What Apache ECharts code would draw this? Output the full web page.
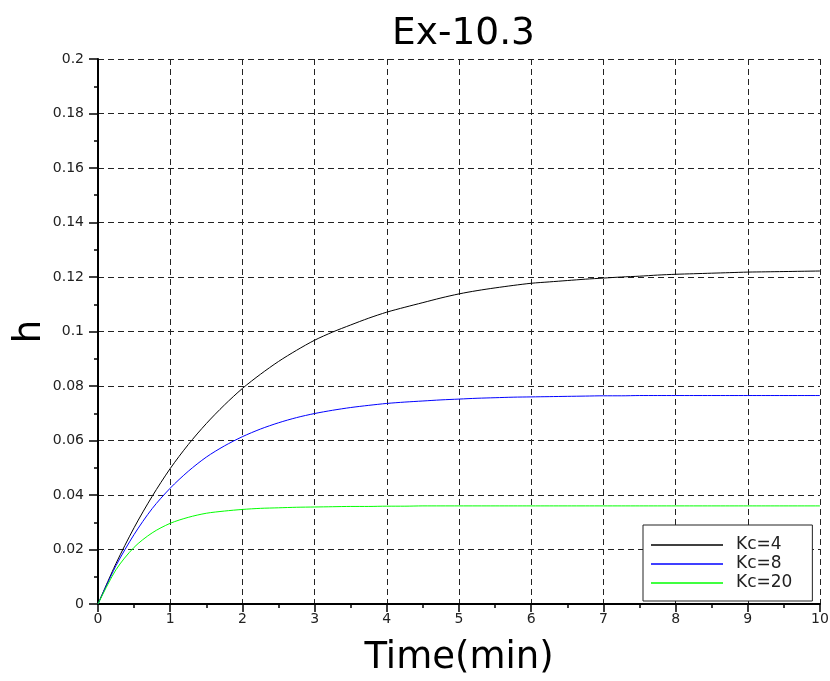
<!DOCTYPE html>
<html>
<head>
<meta charset="utf-8">
<script src="https://cdn.jsdelivr.net/npm/echarts@6/dist/echarts.min.js"></script>
<style>html,body{margin:0;padding:0;background:#fff;}#c{width:830px;height:681px;}</style>
</head>
<body>
<div id="c"></div>
<script>
// values
var time = [0, 0.25, 0.5, 0.75, 1, 1.25, 1.5, 1.75, 2, 2.25, 2.5, 2.75, 3, 3.25, 3.5, 3.75, 4, 4.25, 4.5, 4.75, 5,
            5.25, 5.5, 5.75, 6, 6.25, 6.5, 6.75, 7, 7.25, 7.5, 7.75, 8, 8.25, 8.5, 8.75, 9, 9.25, 9.5, 9.75, 10];
var kc4  = [0, 0.0149, 0.0280, 0.0395, 0.0497, 0.0585, 0.0662, 0.0730, 0.0791, 0.0843, 0.0890, 0.0931, 0.0968,
            0.0998, 0.1024, 0.1049, 0.1071, 0.1089, 0.1106, 0.1123, 0.1138, 0.1150, 0.1160, 0.1169, 0.1177, 0.1182,
            0.1187, 0.1192, 0.1196, 0.1200, 0.1203, 0.1207, 0.1210, 0.1212, 0.1214, 0.1216, 0.1218, 0.1219, 0.1220, 0.1221, 0.1222];
var kc8  = [0, 0.0141, 0.0255, 0.0350, 0.0425, 0.0487, 0.0539, 0.0580, 0.0614, 0.0642, 0.0665, 0.0684, 0.0699,
            0.0711, 0.0721, 0.0729, 0.0736, 0.0741, 0.0745, 0.0749, 0.0752, 0.0755, 0.0757, 0.0759, 0.0760, 0.0761,
            0.0762, 0.0763, 0.0764, 0.0764, 0.0765, 0.0765, 0.0765, 0.0765, 0.0765, 0.0765, 0.0765, 0.0765, 0.0765, 0.0765, 0.0765];
var kc20 = [0, 0.0126, 0.0208, 0.0261, 0.0296, 0.0318, 0.0333, 0.0341, 0.0347, 0.0351, 0.0353, 0.0355, 0.0356,
            0.0357, 0.0358, 0.0358, 0.0359, 0.0359, 0.0360, 0.0360, 0.0360, 0.0360, 0.0360, 0.0360, 0.0360, 0.0360,
            0.0360, 0.0360, 0.0360, 0.0360, 0.0360, 0.0360, 0.0360, 0.0360, 0.0360, 0.0360, 0.0360, 0.0360, 0.0360, 0.0360, 0.0360];
var seriesNames = ['Kc=4', 'Kc=8', 'Kc=20'];
var titleText = 'Ex-10.3';
var xName = 'Time(min)';
var yName = 'h';

function pairs(xs, ys) { return xs.map(function (x, i) { return [x, ys[i]]; }); }

var font = 'DejaVu Sans';
var gridLine = { show: true, lineStyle: { color: '#222', type: [6, 4], width: 1 } };

var chart = echarts.init(document.getElementById('c'), null, { renderer: 'canvas' });
chart.setOption({
  backgroundColor: '#fff',
  animation: false,
  title: {
    text: titleText, left: 387, top: 10,
    textStyle: { fontFamily: font, fontSize: 37.5, fontWeight: 'normal', color: '#000' }
  },
  grid: { left: 98, right: 10, top: 59, bottom: 77, containLabel: false, outerBoundsMode: 'none' },
  xAxis: {
    type: 'value', min: 0, max: 10, interval: 1,
    name: xName, nameLocation: 'middle', nameGap: 36, nameMoveOverlap: false,
    nameTextStyle: { fontFamily: font, fontSize: 37, color: '#000' },
    axisLine: { show: true, onZero: false, lineStyle: { color: '#000', width: 2 } },
    axisTick: { show: true, length: 8, lineStyle: { color: '#000', width: 1.5 } },
    minorTick: { show: true, splitNumber: 2, length: 4, lineStyle: { color: '#000', width: 1.5 } },
    axisLabel: { fontFamily: font, fontSize: 14, color: '#222', margin: 8 },
    splitLine: gridLine
  },
  yAxis: {
    type: 'value', min: 0, max: 0.2, interval: 0.02,
    name: yName, nameLocation: 'middle', nameGap: 49, nameRotate: 90, nameMoveOverlap: false,
    nameTextStyle: { fontFamily: font, fontSize: 37, color: '#000' },
    axisLine: { show: true, onZero: false, lineStyle: { color: '#000', width: 2 } },
    axisTick: { show: true, length: 9, lineStyle: { color: '#000', width: 1.5 } },
    minorTick: { show: true, splitNumber: 2, length: 4, lineStyle: { color: '#000', width: 1.5 } },
    axisLabel: { fontFamily: font, fontSize: 14, color: '#222', margin: 14 },
    splitLine: gridLine
  },
  legend: {
    orient: 'vertical', left: 643, top: 525,
    padding: [11, 20, 9, 8],
    itemWidth: 72, itemHeight: 1.5, itemGap: 1, icon: 'rect',
    itemStyle: { borderWidth: 0 },
    lineStyle: { width: 0 },
    textStyle: { fontFamily: font, fontSize: 17, color: '#222', lineHeight: 18, padding: [0, 0, 0, 8] },
    borderColor: '#222', borderWidth: 1, backgroundColor: '#fff',
    data: seriesNames
  },
  series: [
    { name: seriesNames[0], type: 'line', data: pairs(time, kc4), showSymbol: false, smooth: 0.3, color: '#000000', lineStyle: { width: 1, color: '#000000' } },
    { name: seriesNames[1], type: 'line', data: pairs(time, kc8), showSymbol: false, smooth: 0.3, color: '#0000ff', lineStyle: { width: 1, color: '#0000ff' } },
    { name: seriesNames[2], type: 'line', data: pairs(time, kc20), showSymbol: false, smooth: 0.3, color: '#00ff00', lineStyle: { width: 1, color: '#00ff00' } }
  ]
});
</script>
</body>
</html>
